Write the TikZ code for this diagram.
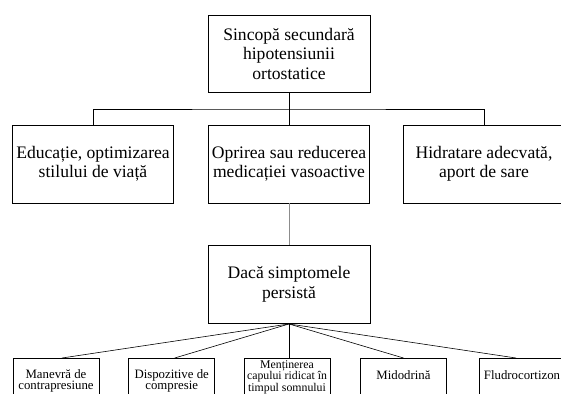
\documentclass[tikz,border=0pt]{standalone}
\usepackage{fontspec}
\setmainfont{Liberation Serif}
\begin{document}
\begin{tikzpicture}[x=1pt,y=-1pt,
  box/.style={draw, line width=0.9pt, align=center, inner sep=0pt,
    minimum width=161pt, minimum height=78pt, font=\fontsize{17.6}{19.5}\selectfont},
  smallbox/.style={draw, line width=0.9pt, align=center, anchor=north,
    inner xsep=0pt, inner ysep=11pt, text depth=28pt,
    minimum width=86pt, font=\fontsize{12.8}{11.5}\selectfont},
  link/.style={line width=0.9pt},
  thinlink/.style={line width=0.6pt},
  greylink/.style={line width=0.9pt, draw=black!45}]
\useasboundingbox (0,0) rectangle (561,393);
\clip (0,0) rectangle (561,393);
% top
\node[box, minimum width=162pt, minimum height=77pt] (top) at (289,53.5)
  {Sincopă secundară\\hipotensiunii\\ortostatice};
\coordinate (bus) at (289,109);
% level 2
\node[box] (edu) at (93,164) {Educație, optimizarea\\stilului de viață};
\node[box] (med) at (289,164) {Oprirea sau reducerea\\medicației vasoactive};
\node[box] (hid) at (484,164) {Hidratare adecvată,\\aport de sare};
\draw[link] (edu.north) |- (bus) -| (hid.north);
\draw[link] (top.south) -- (med.north);
% level 3
\node[box, minimum width=162pt] (daca) at (289,284.5) {Dacă simptomele\\persistă};
\draw[greylink] (med.south) -- (daca.north);
% bottom
\node[smallbox] (b1) at (56,358) {Manevră de\\contrapresiune};
\node[smallbox] (b2) at (171.7,358) {Dispozitive de\\compresie};
\node[smallbox, inner ysep=2pt, font=\fontsize{11.8}{9.6}\selectfont] (b3) at (287,358)
  {Menținerea\\capului ridicat în\\timpul somnului};
\node[smallbox, inner ysep=12pt] (b4) at (403.5,358) {Midodrină};
\node[smallbox, inner ysep=12pt] (b5) at (522,358) {Fludrocortizon};
\draw[thinlink] (daca.south) -- ([xshift=6pt]b1.north);
\draw[thinlink] (daca.south) -- ([xshift=3pt]b2.north);
\draw[thinlink] (daca.south) -- (daca.south |- b3.north);
\draw[thinlink] (daca.south) -- (b4.north);
\draw[thinlink] (daca.south) -- ([xshift=-6pt]b5.north);
\end{tikzpicture}
\end{document}
